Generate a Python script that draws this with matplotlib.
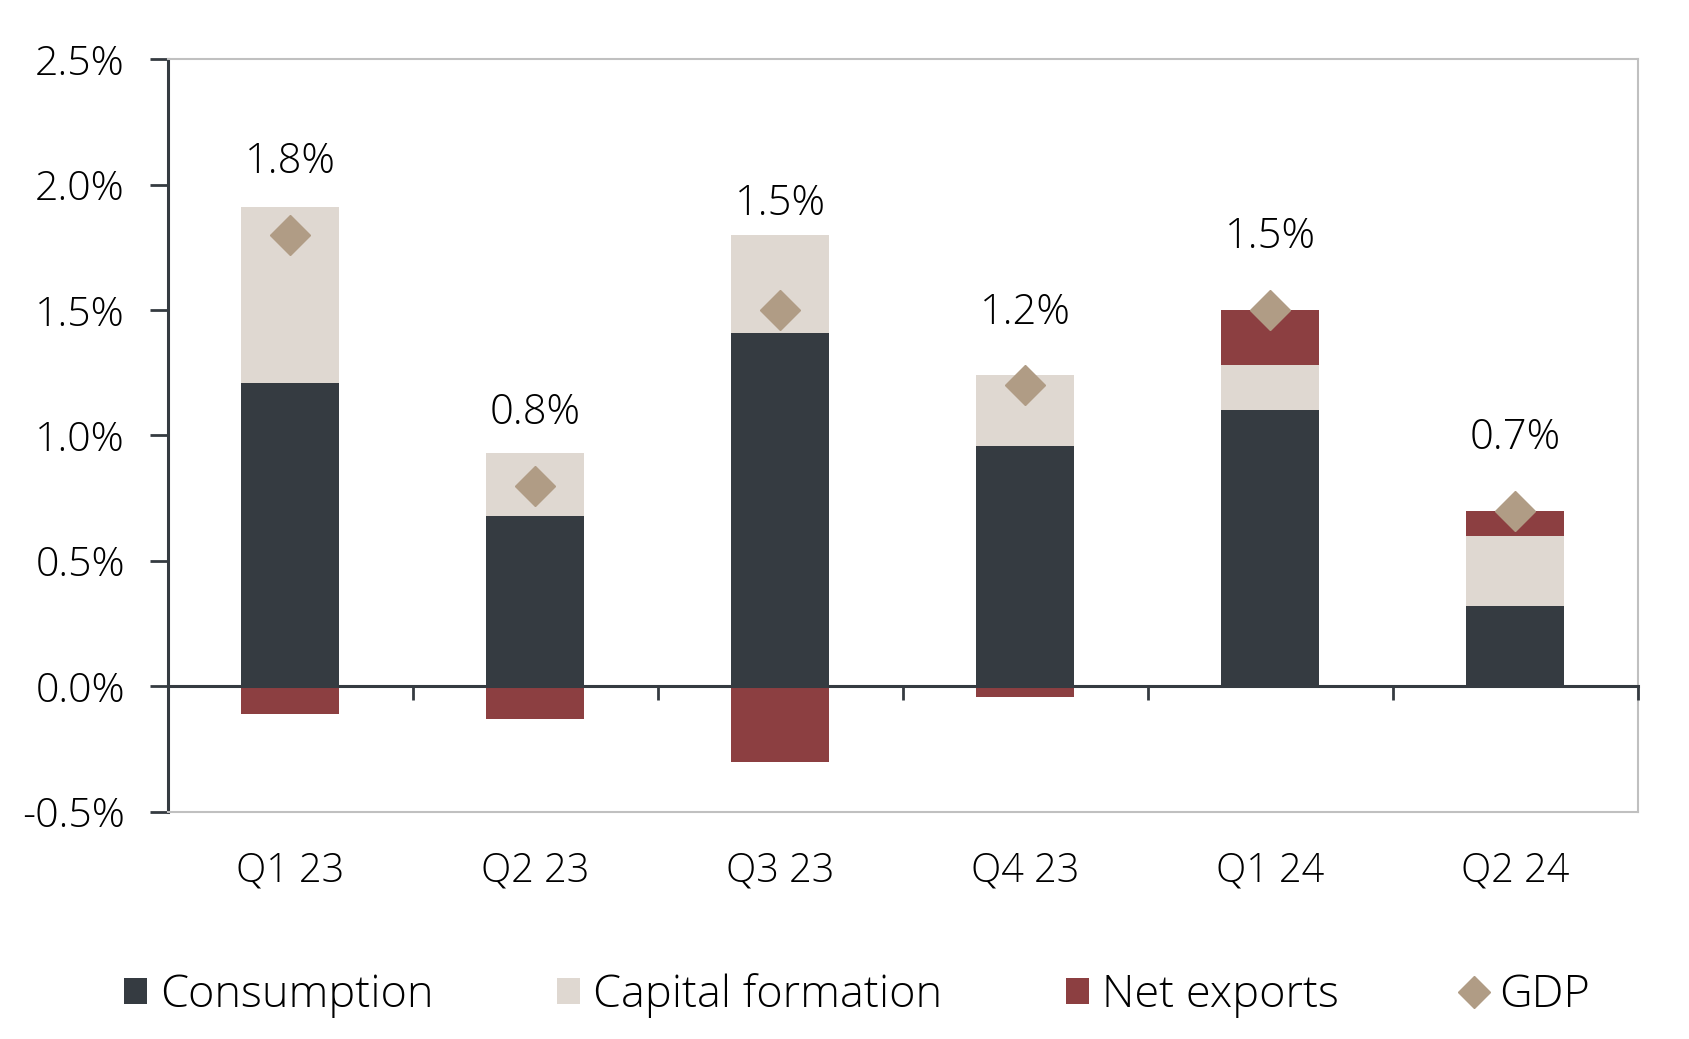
import numpy as np
import matplotlib.pyplot as plt
from matplotlib.lines import Line2D
from matplotlib.patches import Patch

plt.rcParams['font.family'] = ['Open Sans', 'DejaVu Sans']
plt.rcParams['font.weight'] = 'light'

# Contributions to GDP growth, percentage points
quarters = ["Q1 23", "Q2 23", "Q3 23", "Q4 23", "Q1 24", "Q2 24"]
consumption = [1.21, 0.68, 1.41, 0.96, 1.10, 0.32]
capital = [0.70, 0.25, 0.39, 0.28, 0.18, 0.28]
net_exports = [-0.11, -0.13, -0.30, -0.04, 0.22, 0.10]
gdp = [1.8, 0.8, 1.5, 1.2, 1.5, 0.7]
gdp_labels = ["1.8%", "0.8%", "1.5%", "1.2%", "1.5%", "0.7%"]

c_cons = "#353b41"
c_cap = "#dfd8d1"
c_net = "#8c3f41"
c_gdp = "#b09c85"
dark = "#353b41"
grey = "#c0c0c0"

fig = plt.figure(figsize=(16.9, 10.39), dpi=100)
ax = fig.add_axes([0.0994, 0.2185, 0.9692 - 0.0994, 0.9432 - 0.2185])

x = np.arange(len(quarters))
cons = np.array(consumption)
cap = np.array(capital)
net = np.array(net_exports)
w = 0.4

ax.bar(x, cons, w, color=c_cons, zorder=2)
ax.bar(x, cap, w, bottom=cons, color=c_cap, zorder=2)
# negative net exports hang below zero, positive ones sit on top of the stack
net_bottom = np.where(net >= 0, cons + cap, 0)
ax.bar(x, net, w, bottom=net_bottom, color=c_net, zorder=2)

ax.plot(x, gdp, ls="none", marker="D", ms=20, color=c_gdp, zorder=4)

tops = np.maximum(cons + cap + np.clip(net, 0, None), 0)
for i in range(len(x)):
    ly = max(gdp[i] + 0.30, tops[i] + 0.135)
    ax.text(x[i], ly - 0.01, gdp_labels[i], ha="center", va="center",
            fontsize=30, color="black")

ymin, ymax = -0.5, 2.5
ax.set_ylim(ymin, ymax)
ax.set_xlim(-0.5, len(x) - 0.5)
yt = np.arange(-0.5, 2.51, 0.5)
ax.set_yticks(yt)
ax.set_yticklabels(["{:.1f}%".format(v) for v in yt])
ax.tick_params(axis="y", length=13, width=2, color=dark, pad=18,
               labelsize=29.5)

ax.set_xticks(x)
ax.set_xticklabels(quarters)
ax.tick_params(axis="x", length=0, pad=28, labelsize=28.5)

ax.spines["left"].set_color(dark)
ax.spines["left"].set_linewidth(2.2)
for s in ["top", "right", "bottom"]:
    ax.spines[s].set_color(grey)
    ax.spines[s].set_linewidth(1.5)

# zero line with ticks at category boundaries
zero_loc = (0 - ymin) / (ymax - ymin)
sec = ax.secondary_xaxis(zero_loc)
sec.set_xticks(np.arange(len(x)) + 0.5)
sec.set_xticklabels([])
sec.tick_params(axis="x", direction="out", length=10, width=2, color=dark)
sec.spines["bottom"].set_color(dark)
sec.spines["bottom"].set_linewidth(2.2)
sec.set_zorder(5)

handles = [
    Patch(facecolor=c_cons, label="Consumption"),
    Patch(facecolor=c_cap, label="Capital formation"),
    Patch(facecolor=c_net, label="Net exports"),
    Line2D([], [], ls="none", marker="D", ms=16, color=c_gdp, label="GDP"),
]
fig.legend(handles=handles, loc="center", bbox_to_anchor=(0.507, 0.042),
           ncol=4, frameon=False, fontsize=32.5, handlelength=0.5,
           handleheight=0.5, handletextpad=0.29, columnspacing=2.75)

fig.savefig("out.png", dpi=100)
